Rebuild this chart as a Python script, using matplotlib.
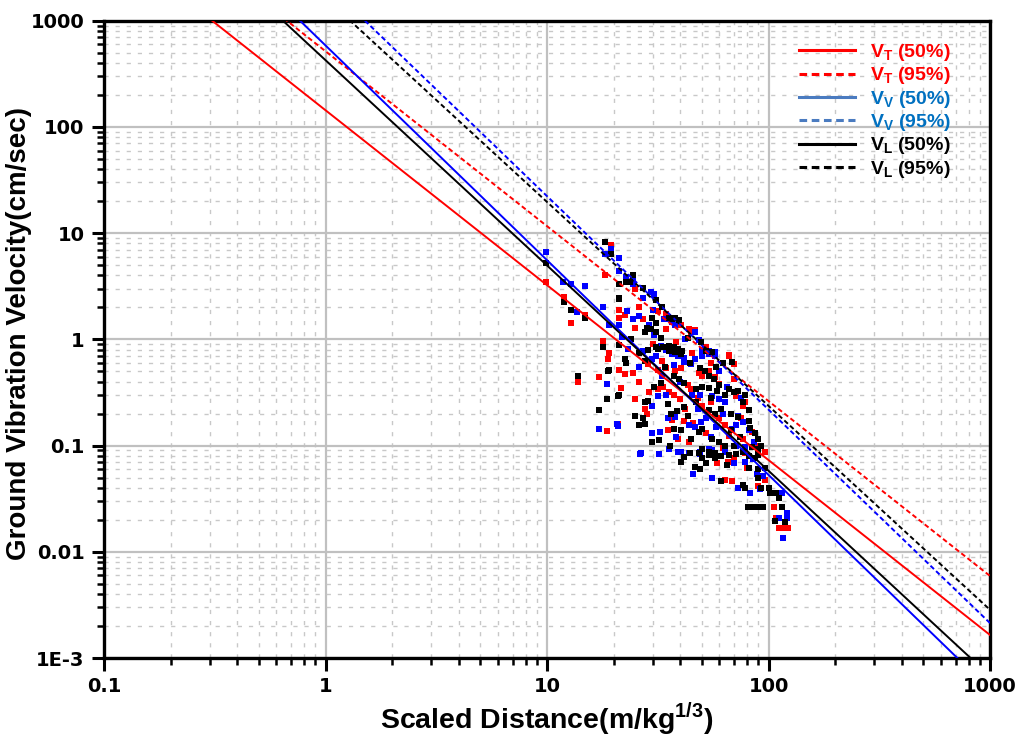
"""
Scaled distance vs ground vibration velocity (log-log), with 50% / 95% fits.
"""

import numpy as np
import matplotlib
matplotlib.use("Agg")
import matplotlib.pyplot as plt
from matplotlib.lines import Line2D
from matplotlib.ticker import FixedLocator, FixedFormatter, NullFormatter

# ---- data -------------------------------------------------------------
# measured points (scaled distance m/kg^1/3, velocity cm/sec)
vt_sd = [19.4, 18.2, 9.9, 11.9, 14.9, 12.8, 21.1, 21.1, 17.8, 19.0, 21.1, 13.8,
         17.1, 21.6, 18.7, 20.8, 24.9, 22.5, 25.9, 27.2, 24.9, 31.7, 34.3, 40.4,
         34.3, 43.8, 46.4, 44.6, 52.1, 66.4, 18.9, 28.6, 31.8, 34.6, 37.7, 40.4,
         48.4, 50.3, 53.8, 57.3, 66.4, 69.8, 71.4, 78.5, 76.3, 84.3, 89.9, 96.3,
         22.5, 24.5, 24.9, 27.7, 28.2, 28.8, 31.7, 33.3, 35.5, 37.3, 39.9, 36.6,
         41.6, 45.6, 39.0, 43.8, 50.3, 54.7, 59.5, 63.3, 43.2, 44.6, 66.4, 76.3,
         58.6, 65.4, 69.8, 78.5, 89.9, 96.3, 63.3, 68.5, 89.9, 82.6, 88.4, 106,
         108, 112, 118.5, 122,
         30, 33, 45, 55, 60, 70, 42, 48, 35, 52, 62, 75, 80, 26, 38]
vt_v = [7.7, 4.0, 3.5, 2.5, 1.7, 1.44, 1.9, 1.58, 0.97, 0.75, 0.52, 0.40,
        0.44, 0.35, 0.137, 0.16, 2.95, 1.7, 2.0, 1.55, 1.29, 1.85, 1.73, 1.36,
        1.26, 1.25, 1.22, 1.18, 0.84, 0.72, 0.65, 0.59, 0.52, 0.54, 0.50, 0.54,
        0.48, 0.45, 0.50, 0.44, 0.70, 0.59, 0.295, 0.256, 0.238, 0.135, 0.10, 0.087,
        0.47, 0.48, 0.275, 0.22, 0.20, 0.32, 0.34, 0.36, 0.32, 0.30, 0.275, 0.175,
        0.17, 0.163, 0.116, 0.107, 0.235, 0.256, 0.18, 0.157, 0.37, 0.34, 0.124, 0.116,
        0.068, 0.070, 0.077, 0.085, 0.087, 0.047, 0.047, 0.046, 0.042, 0.0265, 0.0265, 0.0265,
        0.021, 0.0166, 0.0166, 0.0166,
        0.9, 0.62, 0.75, 0.6, 0.38, 0.42, 0.22, 0.28, 0.14, 0.13, 0.095, 0.18, 0.062, 0.4, 0.95]

vv_sd = [19.4, 18.2, 21.1, 21.1, 9.9, 11.8, 12.8, 14.9, 13.7, 17.8, 19.0, 21.1,
         21.9, 18.7, 17.1, 20.8, 22.6, 24.5, 24.5, 29.4, 30.5, 27.2, 22.9, 24.5,
         25.9, 33.6, 34.8, 36.6, 37.7, 28.8, 30.5, 46.4, 48.6, 50.3, 53.8, 57.3,
         32.8, 34.3, 35.5, 23.2, 27.2, 32.8, 34.3, 36.6, 39.0, 41.6, 29.8, 31.0,
         37.3, 41.6, 44.6, 46.7, 50.3, 53.8, 57.3, 72.6, 76.3, 81.4, 20.6, 29.8,
         31.7, 34.3, 35.0, 37.7, 43.8, 29.8, 32.2, 46.4, 49.7, 52.1, 49.2, 55.8,
         59.5, 63.3, 68.5, 71.4, 35.5, 39.0, 43.8, 49.2, 26.6, 26.3, 32.0, 40.4,
         45.6, 49.2, 53.8, 55.8, 63.3, 71.4, 78.5, 85.7, 69.8, 78.5, 88.4, 94.8,
         55.4, 72.6, 91.5, 82.6, 115, 93, 121, 111, 121, 116,
         26, 33, 40, 45, 60, 65, 55, 62, 75, 85, 38, 48, 30, 42, 58]
vv_v = [7.1, 6.4, 5.85, 4.4, 6.6, 3.5, 3.3, 3.15, 1.8, 2.03, 1.38, 1.38,
        1.05, 0.38, 0.144, 0.152, 3.9, 3.66, 3.3, 2.78, 2.7, 2.46, 1.85, 1.57,
        1.67, 1.55, 1.55, 1.45, 1.36, 1.36, 1.10, 1.18, 0.98, 0.80, 0.78, 0.76,
        0.84, 0.80, 0.82, 0.82, 0.78, 0.87, 0.81, 0.73, 0.70, 0.67, 0.65, 0.70,
        0.58, 0.61, 0.59, 0.65, 0.70, 0.73, 0.70, 0.19, 0.165, 0.14, 0.16, 0.238,
        0.29, 0.30, 0.18, 0.185, 0.157, 0.13, 0.135, 0.15, 0.165, 0.18, 0.30, 0.295,
        0.275, 0.256, 0.142, 0.157, 0.093, 0.087, 0.085, 0.087, 0.085, 0.083, 0.083, 0.087,
        0.054, 0.084, 0.093, 0.090, 0.087, 0.100, 0.097, 0.107, 0.068, 0.070, 0.054, 0.052,
        0.049, 0.040, 0.039, 0.036, 0.036, 0.0265, 0.023, 0.021, 0.021, 0.0134,
        0.55, 0.45, 0.4, 0.3, 0.5, 0.36, 0.12, 0.2, 0.28, 0.075, 0.12, 0.22, 1.9, 1.0, 0.15]

vl_sd = [18.2, 19.4, 21.1, 9.9, 11.9, 12.8, 14.9, 21.1, 17.8, 21.1, 19.0, 13.8,
         18.7, 20.8, 17.1, 24.5, 22.6, 23.7, 27.2, 31.0, 21.1, 29.8, 31.0, 35.5,
         36.6, 37.7, 39.4, 28.2, 29.4, 31.0, 27.7, 32.8, 43.2, 49.5, 52.1, 55.8,
         35.5, 37.7, 40.4, 31.0, 28.6, 22.5, 22.8, 27.7, 31.8, 33.3, 35.5, 37.3,
         39.0, 40.7, 37.3, 39.3, 41.6, 49.2, 51.6, 53.8, 56.5, 59.5, 68.5, 66.4,
         69.8, 72.6, 76.3, 81.4, 81.4, 82.6, 87.2, 89.9, 92.7, 18.9, 21.1, 27.7,
         28.6, 24.9, 27.2, 25.9, 27.7, 30.5, 32.8, 35.0, 36.1, 38.6, 41.6, 43.2,
         37.3, 40.4, 29.8, 44.6, 48.4, 50.3, 53.8, 57.3, 61.0, 46.8, 50.3, 53.8,
         58.6, 63.3, 67.4, 72.6, 55.8, 59.5, 63.3, 69.8, 50.3, 53.8, 57.3, 84.3,
         89.9, 32.0, 29.8, 40.4, 41.6, 46.4, 49.2, 48.4, 50.3, 53.8, 52.1, 57.3,
         61.0, 66.4, 71.4, 76.3, 81.4, 87.2, 89.9, 81.4, 89.9, 96.3, 89.9, 60.7,
         76.3, 78.5, 92.7, 100, 101, 108, 111, 80.4, 85.7, 91.5, 94.8, 115,
         106.5, 118,
         24, 26, 34, 44, 47, 55, 62, 68, 74, 78, 65, 36, 44, 33, 58]
vl_v = [8.3, 6.3, 3.3, 5.2, 2.26, 1.88, 1.6, 2.4, 0.85, 0.88, 0.51, 0.45,
        0.275, 0.29, 0.218, 4.07, 3.5, 3.5, 3.05, 2.34, 2.46, 1.58, 1.42, 1.58,
        1.55, 1.60, 1.52, 1.29, 1.26, 1.18, 1.18, 1.04, 1.04, 0.95, 0.78, 0.76,
        0.78, 0.76, 0.73, 0.84, 0.80, 0.65, 0.60, 0.63, 0.81, 0.84, 0.87, 0.84,
        0.81, 0.78, 0.45, 0.42, 0.39, 0.54, 0.50, 0.45, 0.42, 0.37, 0.61, 0.34,
        0.32, 0.33, 0.256, 0.215, 0.17, 0.146, 0.13, 0.116, 0.10, 0.50, 0.30, 0.256,
        0.265, 0.19, 0.18, 0.157, 0.16, 0.36, 0.39, 0.245, 0.20, 0.21, 0.23, 0.19,
        0.142, 0.14, 0.107, 0.116, 0.135, 0.142, 0.215, 0.20, 0.22, 0.34, 0.36, 0.35,
        0.33, 0.30, 0.20, 0.185, 0.116, 0.107, 0.10, 0.10, 0.093, 0.087, 0.085, 0.097,
        0.093, 0.113, 0.108, 0.070, 0.078, 0.063, 0.060, 0.085, 0.077, 0.081, 0.068, 0.077,
        0.080, 0.081, 0.083, 0.087, 0.080, 0.077, 0.081, 0.062, 0.060, 0.062, 0.050, 0.046,
        0.043, 0.040, 0.040, 0.040, 0.036, 0.036, 0.032, 0.0265, 0.0265, 0.0265, 0.0265, 0.0265,
        0.0195, 0.019,
        1.0, 0.75, 0.55, 0.6, 0.26, 0.28, 0.6, 0.14, 0.12, 0.3, 0.065, 0.1, 0.085, 2.0, 0.55]

# fitted attenuation curves V = K * SD^(-n)
fit_names = ["VT50", "VT95", "VV50", "VV95", "VL50", "VL95"]
fit_K = [143.6, 516, 585, 2280, 425, 1634]
fit_n = [1.647, 1.647, 2.022, 2.010, 1.933, 1.920]

legend_labels = [r"V$_\mathbf{T}$ (50%)", r"V$_\mathbf{T}$ (95%)",
                 r"V$_\mathbf{V}$ (50%)", r"V$_\mathbf{V}$ (95%)",
                 r"V$_\mathbf{L}$ (50%)", r"V$_\mathbf{L}$ (95%)"]

y_ticks = [1e-3, 1e-2, 1e-1, 1, 10, 100, 1000]
y_ticklabels = ["1E-3", "0.01", "0.1", "1", "10", "100", "1000"]
x_ticks = [0.1, 1, 10, 100, 1000]
x_ticklabels = ["0.1", "1", "10", "100", "1000"]

# ---- style ------------------------------------------------------------
RED = "#ff0000"
BLUE = "#0000ff"
BLACK = "#000000"
FONT = ["Liberation Sans", "DejaVu Sans"]
TICK_FONT = ["DejaVu Sans"]
line_colors = [RED, RED, BLUE, BLUE, BLACK, BLACK]
line_styles = ["-", (0, (2.5, 1.5)), "-", (0, (2.5, 1.5)), "-", (0, (2.5, 1.5))]
legend_line_colors = [RED, RED, "#4a7bc0", "#4a7bc0", BLACK, BLACK]
legend_text_colors = [RED, RED, "#0070c0", "#0070c0", BLACK, BLACK]

plt.rcParams["mathtext.fontset"] = "custom"
plt.rcParams["mathtext.bf"] = "Liberation Sans:bold"
plt.rcParams["mathtext.rm"] = "Liberation Sans:bold"

fig = plt.figure(figsize=(10.22, 7.41), dpi=100)
ax = fig.add_axes([0.1018, 0.112, 0.867, 0.860])
ax.set_xscale("log")
ax.set_yscale("log")
ax.set_xlim(0.1, 1000)
ax.set_ylim(1e-3, 1000)

# grid
ax.grid(True, which="major", color="#c0c0c0", linewidth=1.6, linestyle="-", zorder=0)
ax.grid(True, which="minor", color="#c8c8c8", linewidth=1.0, linestyle=(0, (3, 5)), zorder=0)
ax.set_axisbelow(True)

# scatter
ms = 22
ax.scatter(vt_sd, vt_v, marker="s", s=ms, color=RED, linewidths=0, zorder=2)
ax.scatter(vv_sd, vv_v, marker="s", s=ms, color=BLUE, linewidths=0, zorder=2)
ax.scatter(vl_sd, vl_v, marker="s", s=ms, color=BLACK, linewidths=0, zorder=2)

# fit lines
sd = np.logspace(-1, 3, 200)
for K, n, c, ls in zip(fit_K, fit_n, line_colors, line_styles):
    ax.plot(sd, K * sd ** (-n), color=c, linestyle=ls, linewidth=1.4, zorder=3)

# ticks
ax.xaxis.set_major_locator(FixedLocator(x_ticks))
ax.xaxis.set_major_formatter(FixedFormatter(x_ticklabels))
ax.yaxis.set_major_locator(FixedLocator(y_ticks))
ax.yaxis.set_major_formatter(FixedFormatter(y_ticklabels))
ax.xaxis.set_minor_formatter(NullFormatter())
ax.yaxis.set_minor_formatter(NullFormatter())
ax.tick_params(which="major", direction="out", length=9, width=2.2, pad=5)
ax.tick_params(which="minor", direction="out", length=5, width=1.8)
ax.tick_params(top=False, right=False, which="both")

for lab in ax.get_xticklabels() + ax.get_yticklabels():
    lab.set_fontfamily(TICK_FONT)
    lab.set_fontweight("bold")
    lab.set_fontsize(14)

for sp in ax.spines.values():
    sp.set_linewidth(2.4)

ax.set_xlabel(r"Scaled Distance(m/kg$^{\mathregular{1/3}}$)",
              fontsize=20.5, fontweight="bold", family=FONT, labelpad=3)
ax.set_ylabel("Ground Vibration Velocity(cm/sec)", fontsize=20, fontweight="bold",
              family=FONT)
ax.yaxis.set_label_coords(-0.081, 0.51)

# legend
handles = [Line2D([], [], color=c, linestyle=ls, linewidth=2.2)
           for c, ls in zip(legend_line_colors, line_styles)]
leg = ax.legend(handles, legend_labels, loc="upper left",
                bbox_to_anchor=(799 / 1022, 1 - 42 / 741), bbox_transform=fig.transFigure,
                frameon=False, handlelength=2.9, handletextpad=0.75,
                labelspacing=0.12, borderpad=0, borderaxespad=0,
                prop=dict(family=FONT, weight="bold", size=14))
for txt, c in zip(leg.get_texts(), legend_text_colors):
    txt.set_color(c)

fig.savefig("out.png", dpi=100)
